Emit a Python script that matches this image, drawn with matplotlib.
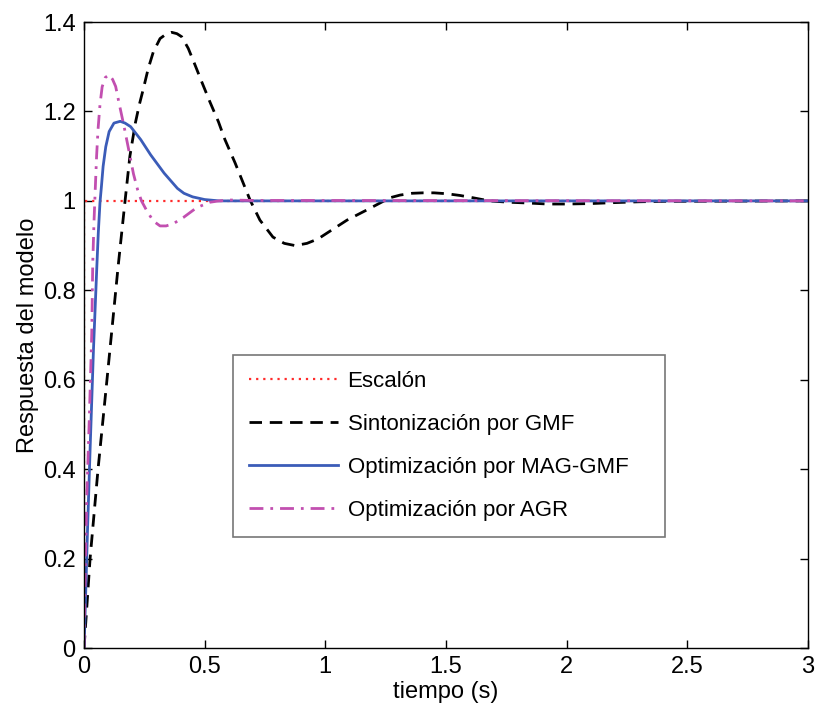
import matplotlib
matplotlib.use("Agg")
import matplotlib.pyplot as plt

plt.rcParams['font.family'] = ['Liberation Sans', 'DejaVu Sans']

# Step reference
t_step = [0.0, 0.0, 3.0]
y_step = [0.0, 1.0, 1.0]

# Tuning by GMF
t_gmf = [0.0, 0.025, 0.058, 0.095, 0.141, 0.17, 0.19, 0.213, 0.229, 0.246,
         0.266, 0.287, 0.315, 0.34, 0.363, 0.385, 0.405, 0.432, 0.46, 0.488,
         0.522, 0.557, 0.584, 0.626, 0.688, 0.729, 0.783, 0.83, 0.875, 0.924,
         0.97, 1.007, 1.09, 1.173, 1.268, 1.31, 1.36, 1.405, 1.45, 1.504, 1.56,
         1.612, 1.68, 1.76, 1.85, 1.92, 2.0, 2.1, 2.19, 2.3, 2.4, 3.0]
y_gmf = [0.0, 0.2, 0.4, 0.6, 0.852, 1.0, 1.1, 1.175, 1.215, 1.251,
         1.296, 1.333, 1.363, 1.373, 1.377, 1.374, 1.367, 1.341, 1.304, 1.266,
         1.221, 1.177, 1.137, 1.085, 1.002, 0.957, 0.919, 0.905, 0.9, 0.905,
         0.915, 0.928, 0.957, 0.98, 1.007, 1.013, 1.017, 1.018, 1.018, 1.016, 1.012,
         1.007, 1.0, 0.997, 0.995, 0.993, 0.993, 0.994, 0.996, 0.998, 0.999, 1.0]

# Optimisation by MAG-GMF
t_mag = [0.0, 0.004, 0.014, 0.025, 0.039, 0.053, 0.059, 0.066, 0.072, 0.079,
         0.09, 0.104, 0.124, 0.15, 0.17, 0.193, 0.235, 0.276, 0.332, 0.387,
         0.414, 0.45, 0.5, 0.56, 3.0]
y_mag = [0.0, 0.07, 0.257, 0.443, 0.667, 0.853, 0.928, 0.996, 1.032, 1.077,
         1.121, 1.155, 1.174, 1.178, 1.174, 1.166, 1.137, 1.103, 1.062, 1.028,
         1.017, 1.009, 1.003, 1.0, 1.0]

# Optimisation by AGR
t_agr = [0.0, 0.004, 0.011, 0.022, 0.032, 0.036, 0.041, 0.046, 0.052, 0.058,
         0.066, 0.075, 0.088, 0.104, 0.118, 0.131, 0.145, 0.166, 0.186, 0.205,
         0.222, 0.238, 0.26, 0.287, 0.315, 0.34, 0.37, 0.412, 0.467, 0.522,
         0.56, 0.6, 0.7, 3.0]
y_agr = [0.0, 0.145, 0.331, 0.517, 0.704, 0.86, 0.95, 1.02, 1.10, 1.16,
         1.215, 1.255, 1.276, 1.282, 1.272, 1.256, 1.219, 1.166, 1.112, 1.06,
         1.025, 1.0, 0.978, 0.955, 0.944, 0.944, 0.949, 0.963, 0.985, 0.997,
         1.0, 1.002, 1.001, 1.0]

labels = ['Escalón', 'Sintonización por GMF', 'Optimización por MAG-GMF',
          'Optimización por AGR']
x_ticks = [0, 0.5, 1, 1.5, 2, 2.5, 3]
x_ticklabels = ['0', '0.5', '1', '1.5', '2', '2.5', '3']
y_ticks = [0, 0.2, 0.4, 0.6, 0.8, 1.0, 1.2, 1.4]
y_ticklabels = ['0', '0.2', '0.4', '0.6', '0.8', '1', '1.2', '1.4']

fig = plt.figure(figsize=(8.16, 7.11), dpi=100)
ax = fig.add_axes([0.103, 0.0886, 0.887, 0.8804])

ax.plot(t_step, y_step, color='#ff2a2a', linestyle=(0, (1, 2.2)), linewidth=1.6,
        label=labels[0])
ax.plot(t_gmf, y_gmf, color='black', linestyle=(0, (4.5, 2.8)), linewidth=2.0,
        label=labels[1])
ax.plot(t_mag, y_mag, color='#3b5cb8', linestyle='-', linewidth=2.0,
        label=labels[2])
ax.plot(t_agr, y_agr, color='#c24fb0', linestyle=(0, (5, 2.5, 1, 2.5)),
        linewidth=2.0, label=labels[3])

ax.set_xlim(0, 3)
ax.set_ylim(0, 1.4)
ax.set_xticks(x_ticks)
ax.set_xticklabels(x_ticklabels)
ax.set_yticks(y_ticks)
ax.set_yticklabels(y_ticklabels)
ax.tick_params(direction='in', top=True, right=True, length=6, width=1,
               labelsize=17, pad=6)
for s in ax.spines.values():
    s.set_linewidth(1.0)

ax.set_xlabel('tiempo (s)', fontsize=17, labelpad=2)
ax.set_ylabel('Respuesta del modelo', fontsize=17, labelpad=3)

# Legend box stretched a little wider than its contents
leg = ax.legend(loc='upper left', bbox_to_anchor=(0.206, 0.173, 0.597, 0.295),
                mode='expand', fontsize=16,
                handlelength=4.0, handletextpad=0.45, labelspacing=1.0,
                borderpad=0.7, frameon=True, fancybox=False, borderaxespad=0)
leg.get_frame().set_edgecolor('#555555')
leg.get_frame().set_linewidth(1.2)

fig.savefig('out.png', dpi=100)
